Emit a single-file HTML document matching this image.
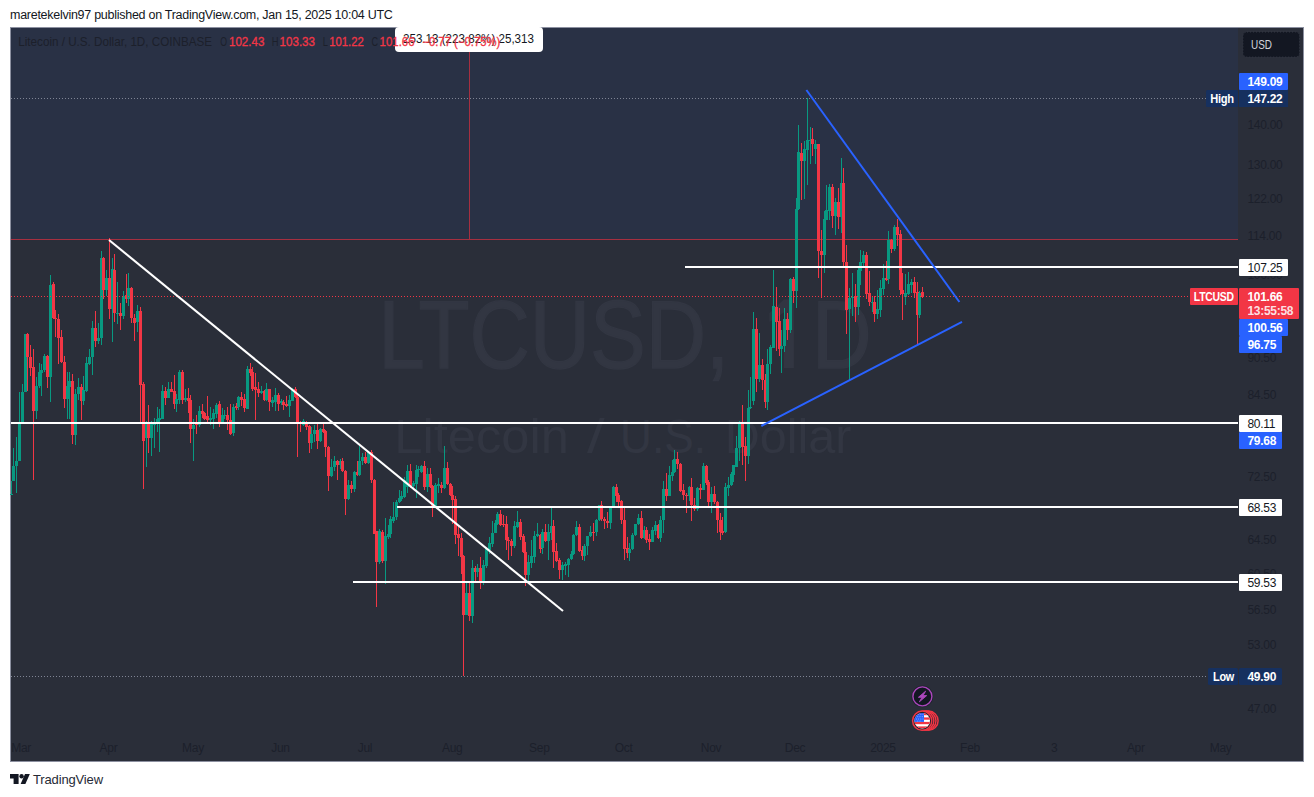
<!DOCTYPE html>
<html><head><meta charset="utf-8"><title>LTCUSD</title>
<style>
html,body{margin:0;padding:0;background:#fff;}
body{width:1314px;height:797px;position:relative;overflow:hidden;font-family:"Liberation Sans",sans-serif;}
#hdr{position:absolute;left:10px;top:7px;font-size:12.5px;line-height:16px;color:#131722;white-space:nowrap;letter-spacing:-0.27px;}
#chart{position:absolute;left:0;top:0;}
text{font-family:"Liberation Sans",sans-serif;}
.tk{font-size:12px;fill:#1c202b;letter-spacing:-0.3px;}
.lb{font-size:12px;fill:#fff;font-weight:bold;letter-spacing:-0.3px;}
.lw{font-size:12px;fill:#131722;letter-spacing:-0.3px;}
#foot{position:absolute;left:33px;top:771.6px;font-size:13px;line-height:16px;color:#262a35;letter-spacing:-0.15px;}
</style></head><body>
<div id="hdr">maretekelvin97 published on TradingView.com, Jan 15, 2025 10:04 UTC</div>
<svg id="chart" width="1314" height="797" viewBox="0 0 1314 797">
<!-- frame -->
<rect x="10.5" y="27.5" width="1293" height="734" fill="#2a2e39" stroke="#8c90a0" stroke-width="1"/>
<!-- upper tinted zone -->
<rect x="11" y="28" width="1227" height="211" fill="#293145"/>
<rect x="11" y="239" width="1227" height="1" fill="#a62f40"/>
<rect x="469" y="52" width="1" height="187" fill="#a62f40"/>
<!-- watermark -->
<g fill="#323642" lengthAdjust="spacingAndGlyphs">
<text x="378.3" y="368.2" font-size="96" textLength="351" lengthAdjust="spacingAndGlyphs" stroke="#323642" stroke-width="1.4">LTCUSD,</text>
<path d="M783.9 299.4 H793.9 V368 H783.9 V312.5 L769.5 322 V313 Z"/>
<text x="811.9" y="368.2" font-size="96" textLength="59.6" lengthAdjust="spacingAndGlyphs" stroke="#323642" stroke-width="1.4">D</text>
<text x="394.3" y="452.8" font-size="47.5" textLength="174.5" lengthAdjust="spacingAndGlyphs">Litecoin</text>
<text x="587" y="452.8" font-size="47.5" textLength="17.7" lengthAdjust="spacingAndGlyphs">/</text>
<text x="620" y="452.8" font-size="47.5" textLength="86" lengthAdjust="spacingAndGlyphs">U.S.</text>
<text x="724.8" y="452.8" font-size="47.5" textLength="126.7" lengthAdjust="spacingAndGlyphs">Dollar</text>
</g>
<!-- high/low dotted -->
<line x1="11" y1="98.5" x2="1207" y2="98.5" stroke="#7f8494" stroke-width="1" stroke-dasharray="1 2"/>
<line x1="11" y1="676.5" x2="1208.5" y2="676.5" stroke="#7f8494" stroke-width="1" stroke-dasharray="1 2"/>
<!-- candles -->
<g shape-rendering="crispEdges">
<rect x="10.5" y="480.5" width="1" height="14.1" fill="#089981"/>
<rect x="9.5" y="494.2" width="3" height="1.0" fill="#089981"/>
<rect x="13.1" y="448.4" width="1" height="32.1" fill="#089981"/>
<rect x="12.1" y="466.1" width="3" height="14.4" fill="#089981"/>
<rect x="15.9" y="437.3" width="1" height="55.3" fill="#089981"/>
<rect x="14.9" y="461.4" width="3" height="4.7" fill="#089981"/>
<rect x="18.9" y="392.1" width="1" height="69.3" fill="#089981"/>
<rect x="17.9" y="423.3" width="3" height="38.1" fill="#089981"/>
<rect x="22.0" y="383.7" width="1" height="39.6" fill="#089981"/>
<rect x="21.0" y="392.1" width="3" height="31.2" fill="#089981"/>
<rect x="24.6" y="333.5" width="1" height="58.6" fill="#089981"/>
<rect x="23.6" y="333.9" width="3" height="58.2" fill="#089981"/>
<rect x="27.2" y="332.9" width="1" height="58.2" fill="#f23645"/>
<rect x="26.2" y="333.9" width="3" height="22.7" fill="#f23645"/>
<rect x="30.0" y="344.5" width="1" height="31.1" fill="#f23645"/>
<rect x="29.0" y="356.6" width="3" height="11.0" fill="#f23645"/>
<rect x="33.0" y="349.1" width="1" height="130.4" fill="#f23645"/>
<rect x="32.0" y="366.6" width="3" height="44.6" fill="#f23645"/>
<rect x="35.8" y="376.7" width="1" height="42.5" fill="#089981"/>
<rect x="34.8" y="386.1" width="3" height="25.1" fill="#089981"/>
<rect x="38.6" y="362.6" width="1" height="25.1" fill="#089981"/>
<rect x="37.6" y="371.6" width="3" height="14.5" fill="#089981"/>
<rect x="41.2" y="363.6" width="1" height="32.5" fill="#089981"/>
<rect x="40.2" y="370.0" width="3" height="2.6" fill="#089981"/>
<rect x="44.1" y="353.5" width="1" height="18.1" fill="#089981"/>
<rect x="43.1" y="355.6" width="3" height="14.4" fill="#089981"/>
<rect x="46.9" y="354.5" width="1" height="33.6" fill="#f23645"/>
<rect x="45.9" y="355.6" width="3" height="21.1" fill="#f23645"/>
<rect x="49.9" y="274.8" width="1" height="127.0" fill="#089981"/>
<rect x="48.9" y="285.2" width="3" height="91.5" fill="#089981"/>
<rect x="52.5" y="282.2" width="1" height="37.2" fill="#f23645"/>
<rect x="51.5" y="284.2" width="3" height="34.2" fill="#f23645"/>
<rect x="55.3" y="310.3" width="1" height="26.2" fill="#f23645"/>
<rect x="54.3" y="317.8" width="3" height="1.6" fill="#f23645"/>
<rect x="58.1" y="314.4" width="1" height="49.2" fill="#f23645"/>
<rect x="57.1" y="319.0" width="3" height="18.5" fill="#f23645"/>
<rect x="61.1" y="330.4" width="1" height="32.2" fill="#f23645"/>
<rect x="60.1" y="337.1" width="3" height="24.9" fill="#f23645"/>
<rect x="63.7" y="355.6" width="1" height="52.6" fill="#f23645"/>
<rect x="62.7" y="362.0" width="3" height="37.2" fill="#f23645"/>
<rect x="66.8" y="372.0" width="1" height="47.2" fill="#089981"/>
<rect x="65.8" y="386.1" width="3" height="13.1" fill="#089981"/>
<rect x="69.4" y="372.0" width="1" height="47.2" fill="#089981"/>
<rect x="68.4" y="380.7" width="3" height="6.0" fill="#089981"/>
<rect x="72.0" y="373.6" width="1" height="70.4" fill="#f23645"/>
<rect x="71.0" y="380.7" width="3" height="54.6" fill="#f23645"/>
<rect x="75.0" y="388.7" width="1" height="56.1" fill="#089981"/>
<rect x="74.0" y="394.1" width="3" height="41.2" fill="#089981"/>
<rect x="77.8" y="378.1" width="1" height="22.1" fill="#089981"/>
<rect x="76.8" y="387.1" width="3" height="7.0" fill="#089981"/>
<rect x="80.8" y="384.1" width="1" height="35.8" fill="#f23645"/>
<rect x="79.8" y="387.1" width="3" height="14.1" fill="#f23645"/>
<rect x="83.4" y="375.6" width="1" height="29.6" fill="#089981"/>
<rect x="82.4" y="390.1" width="3" height="11.1" fill="#089981"/>
<rect x="86.3" y="356.6" width="1" height="35.1" fill="#089981"/>
<rect x="85.3" y="363.2" width="3" height="27.5" fill="#089981"/>
<rect x="89.1" y="349.1" width="1" height="15.5" fill="#089981"/>
<rect x="88.1" y="356.6" width="3" height="7.0" fill="#089981"/>
<rect x="91.9" y="321.0" width="1" height="53.6" fill="#089981"/>
<rect x="90.9" y="327.8" width="3" height="29.4" fill="#089981"/>
<rect x="94.9" y="310.9" width="1" height="35.6" fill="#f23645"/>
<rect x="93.9" y="327.8" width="3" height="12.7" fill="#f23645"/>
<rect x="97.9" y="323.0" width="1" height="20.5" fill="#089981"/>
<rect x="96.9" y="337.5" width="3" height="3.0" fill="#089981"/>
<rect x="100.5" y="251.1" width="1" height="93.4" fill="#089981"/>
<rect x="99.5" y="257.5" width="3" height="80.4" fill="#089981"/>
<rect x="103.1" y="257.1" width="1" height="41.8" fill="#f23645"/>
<rect x="102.1" y="258.1" width="3" height="31.6" fill="#f23645"/>
<rect x="106.1" y="270.2" width="1" height="26.1" fill="#089981"/>
<rect x="105.1" y="277.6" width="3" height="12.1" fill="#089981"/>
<rect x="109.0" y="238.0" width="1" height="81.4" fill="#f23645"/>
<rect x="108.0" y="277.6" width="3" height="31.3" fill="#f23645"/>
<rect x="112.0" y="258.1" width="1" height="83.4" fill="#089981"/>
<rect x="111.0" y="269.2" width="3" height="39.7" fill="#089981"/>
<rect x="114.4" y="254.1" width="1" height="68.3" fill="#f23645"/>
<rect x="113.4" y="270.2" width="3" height="43.2" fill="#f23645"/>
<rect x="117.2" y="282.2" width="1" height="42.2" fill="#089981"/>
<rect x="116.2" y="313.0" width="3" height="1.0" fill="#089981"/>
<rect x="120.0" y="303.3" width="1" height="27.1" fill="#f23645"/>
<rect x="119.0" y="313.4" width="3" height="3.0" fill="#f23645"/>
<rect x="123.0" y="291.3" width="1" height="28.1" fill="#089981"/>
<rect x="122.0" y="296.3" width="3" height="20.1" fill="#089981"/>
<rect x="125.8" y="274.2" width="1" height="29.1" fill="#f23645"/>
<rect x="124.8" y="295.3" width="3" height="3.6" fill="#f23645"/>
<rect x="128.0" y="273.2" width="1" height="33.1" fill="#089981"/>
<rect x="127.0" y="288.2" width="3" height="10.7" fill="#089981"/>
<rect x="131.1" y="287.2" width="1" height="36.2" fill="#f23645"/>
<rect x="130.1" y="288.2" width="3" height="30.2" fill="#f23645"/>
<rect x="134.1" y="314.4" width="1" height="26.1" fill="#f23645"/>
<rect x="133.1" y="317.8" width="3" height="5.2" fill="#f23645"/>
<rect x="137.1" y="304.9" width="1" height="27.5" fill="#089981"/>
<rect x="136.1" y="310.9" width="3" height="11.5" fill="#089981"/>
<rect x="140.1" y="307.3" width="1" height="116.0" fill="#f23645"/>
<rect x="139.1" y="310.9" width="3" height="73.8" fill="#f23645"/>
<rect x="143.1" y="381.7" width="1" height="106.9" fill="#f23645"/>
<rect x="142.1" y="383.7" width="3" height="57.6" fill="#f23645"/>
<rect x="145.7" y="421.3" width="1" height="45.2" fill="#089981"/>
<rect x="144.7" y="423.3" width="3" height="15.0" fill="#089981"/>
<rect x="148.1" y="405.2" width="1" height="48.2" fill="#f23645"/>
<rect x="147.1" y="423.9" width="3" height="14.4" fill="#f23645"/>
<rect x="151.0" y="421.3" width="1" height="34.7" fill="#089981"/>
<rect x="150.0" y="423.9" width="3" height="14.4" fill="#089981"/>
<rect x="153.8" y="418.2" width="1" height="30.2" fill="#089981"/>
<rect x="152.8" y="423.3" width="3" height="1.4" fill="#089981"/>
<rect x="156.6" y="407.2" width="1" height="25.1" fill="#089981"/>
<rect x="155.6" y="419.2" width="3" height="5.1" fill="#089981"/>
<rect x="159.2" y="409.2" width="1" height="43.2" fill="#089981"/>
<rect x="158.2" y="418.2" width="3" height="1.7" fill="#089981"/>
<rect x="161.8" y="384.7" width="1" height="34.5" fill="#089981"/>
<rect x="160.8" y="391.1" width="3" height="27.5" fill="#089981"/>
<rect x="164.6" y="387.1" width="1" height="18.1" fill="#f23645"/>
<rect x="163.6" y="391.1" width="3" height="7.1" fill="#f23645"/>
<rect x="167.6" y="382.3" width="1" height="15.9" fill="#089981"/>
<rect x="166.6" y="389.1" width="3" height="8.6" fill="#089981"/>
<rect x="170.6" y="381.7" width="1" height="10.4" fill="#f23645"/>
<rect x="169.6" y="389.1" width="3" height="2.6" fill="#f23645"/>
<rect x="173.9" y="375.2" width="1" height="34.0" fill="#f23645"/>
<rect x="172.9" y="390.7" width="3" height="13.1" fill="#f23645"/>
<rect x="176.3" y="393.7" width="1" height="18.1" fill="#089981"/>
<rect x="175.3" y="399.2" width="3" height="4.6" fill="#089981"/>
<rect x="178.9" y="370.0" width="1" height="34.2" fill="#089981"/>
<rect x="177.9" y="371.6" width="3" height="28.2" fill="#089981"/>
<rect x="181.9" y="370.0" width="1" height="33.8" fill="#f23645"/>
<rect x="180.9" y="372.0" width="3" height="27.8" fill="#f23645"/>
<rect x="184.9" y="388.7" width="1" height="13.5" fill="#089981"/>
<rect x="183.9" y="397.7" width="3" height="2.5" fill="#089981"/>
<rect x="187.7" y="388.1" width="1" height="25.1" fill="#f23645"/>
<rect x="186.7" y="397.7" width="3" height="3.5" fill="#f23645"/>
<rect x="190.3" y="395.1" width="1" height="47.7" fill="#f23645"/>
<rect x="189.3" y="400.2" width="3" height="28.5" fill="#f23645"/>
<rect x="192.9" y="419.2" width="1" height="42.2" fill="#089981"/>
<rect x="191.9" y="424.7" width="3" height="4.0" fill="#089981"/>
<rect x="196.0" y="415.2" width="1" height="18.7" fill="#f23645"/>
<rect x="195.0" y="422.3" width="3" height="2.4" fill="#f23645"/>
<rect x="198.8" y="405.8" width="1" height="21.5" fill="#089981"/>
<rect x="197.8" y="411.2" width="3" height="13.5" fill="#089981"/>
<rect x="201.8" y="404.2" width="1" height="14.0" fill="#f23645"/>
<rect x="200.8" y="411.2" width="3" height="2.6" fill="#f23645"/>
<rect x="204.4" y="412.2" width="1" height="8.1" fill="#f23645"/>
<rect x="203.4" y="413.2" width="3" height="6.0" fill="#f23645"/>
<rect x="207.0" y="396.1" width="1" height="27.8" fill="#f23645"/>
<rect x="206.0" y="415.8" width="3" height="4.5" fill="#f23645"/>
<rect x="210.0" y="407.2" width="1" height="17.5" fill="#089981"/>
<rect x="209.0" y="418.2" width="3" height="2.1" fill="#089981"/>
<rect x="213.0" y="409.2" width="1" height="19.5" fill="#089981"/>
<rect x="212.0" y="413.2" width="3" height="5.4" fill="#089981"/>
<rect x="215.8" y="403.2" width="1" height="15.0" fill="#089981"/>
<rect x="214.8" y="404.6" width="3" height="9.2" fill="#089981"/>
<rect x="218.9" y="401.2" width="1" height="25.5" fill="#f23645"/>
<rect x="217.9" y="404.2" width="3" height="18.1" fill="#f23645"/>
<rect x="221.5" y="408.2" width="1" height="15.1" fill="#089981"/>
<rect x="220.5" y="415.2" width="3" height="7.1" fill="#089981"/>
<rect x="224.1" y="410.2" width="1" height="9.0" fill="#089981"/>
<rect x="223.1" y="415.2" width="3" height="1.0" fill="#089981"/>
<rect x="226.9" y="407.2" width="1" height="23.1" fill="#f23645"/>
<rect x="225.9" y="415.2" width="3" height="5.1" fill="#f23645"/>
<rect x="229.9" y="404.2" width="1" height="30.5" fill="#f23645"/>
<rect x="228.9" y="420.3" width="3" height="13.6" fill="#f23645"/>
<rect x="232.9" y="404.2" width="1" height="31.7" fill="#089981"/>
<rect x="231.9" y="407.2" width="3" height="26.1" fill="#089981"/>
<rect x="235.5" y="403.2" width="1" height="7.0" fill="#f23645"/>
<rect x="234.5" y="406.2" width="3" height="2.0" fill="#f23645"/>
<rect x="238.2" y="395.7" width="1" height="14.5" fill="#089981"/>
<rect x="237.2" y="397.1" width="3" height="10.1" fill="#089981"/>
<rect x="241.2" y="392.1" width="1" height="14.1" fill="#f23645"/>
<rect x="240.2" y="397.1" width="3" height="3.1" fill="#f23645"/>
<rect x="244.0" y="394.1" width="1" height="17.7" fill="#f23645"/>
<rect x="243.0" y="399.2" width="3" height="9.0" fill="#f23645"/>
<rect x="246.8" y="365.6" width="1" height="43.4" fill="#089981"/>
<rect x="245.8" y="368.6" width="3" height="40.0" fill="#089981"/>
<rect x="249.6" y="363.2" width="1" height="12.4" fill="#f23645"/>
<rect x="248.6" y="369.2" width="3" height="3.4" fill="#f23645"/>
<rect x="252.2" y="366.6" width="1" height="24.5" fill="#f23645"/>
<rect x="251.2" y="371.6" width="3" height="17.5" fill="#f23645"/>
<rect x="255.0" y="372.6" width="1" height="47.7" fill="#f23645"/>
<rect x="254.0" y="387.1" width="3" height="3.0" fill="#f23645"/>
<rect x="258.0" y="381.7" width="1" height="15.4" fill="#f23645"/>
<rect x="257.0" y="388.7" width="3" height="4.0" fill="#f23645"/>
<rect x="260.7" y="385.7" width="1" height="8.4" fill="#089981"/>
<rect x="259.7" y="391.1" width="3" height="2.0" fill="#089981"/>
<rect x="263.7" y="389.7" width="1" height="11.5" fill="#f23645"/>
<rect x="262.7" y="391.1" width="3" height="9.1" fill="#f23645"/>
<rect x="266.3" y="382.7" width="1" height="17.9" fill="#089981"/>
<rect x="265.3" y="389.1" width="3" height="11.1" fill="#089981"/>
<rect x="269.1" y="388.7" width="1" height="21.9" fill="#f23645"/>
<rect x="268.1" y="389.1" width="3" height="13.1" fill="#f23645"/>
<rect x="271.9" y="397.1" width="1" height="10.1" fill="#089981"/>
<rect x="270.9" y="400.2" width="3" height="2.4" fill="#089981"/>
<rect x="274.7" y="388.0" width="1" height="23.1" fill="#089981"/>
<rect x="273.7" y="394.5" width="3" height="7.2" fill="#089981"/>
<rect x="277.7" y="393.1" width="1" height="17.4" fill="#f23645"/>
<rect x="276.7" y="394.5" width="3" height="9.6" fill="#f23645"/>
<rect x="280.6" y="399.1" width="1" height="6.0" fill="#089981"/>
<rect x="279.6" y="401.1" width="3" height="2.0" fill="#089981"/>
<rect x="283.2" y="400.1" width="1" height="9.6" fill="#f23645"/>
<rect x="282.2" y="401.7" width="3" height="3.4" fill="#f23645"/>
<rect x="286.0" y="396.1" width="1" height="11.0" fill="#f23645"/>
<rect x="285.0" y="403.7" width="3" height="2.0" fill="#f23645"/>
<rect x="288.8" y="395.1" width="1" height="21.5" fill="#089981"/>
<rect x="287.8" y="400.1" width="3" height="5.6" fill="#089981"/>
<rect x="291.6" y="388.4" width="1" height="12.7" fill="#089981"/>
<rect x="290.6" y="389.0" width="3" height="11.5" fill="#089981"/>
<rect x="294.6" y="387.0" width="1" height="11.1" fill="#f23645"/>
<rect x="293.6" y="389.0" width="3" height="8.1" fill="#f23645"/>
<rect x="297.2" y="393.1" width="1" height="64.3" fill="#f23645"/>
<rect x="296.2" y="397.1" width="3" height="26.1" fill="#f23645"/>
<rect x="300.0" y="421.2" width="1" height="10.6" fill="#f23645"/>
<rect x="299.0" y="422.2" width="3" height="1.6" fill="#f23645"/>
<rect x="302.9" y="419.2" width="1" height="7.0" fill="#089981"/>
<rect x="301.9" y="421.2" width="3" height="4.0" fill="#089981"/>
<rect x="305.7" y="421.2" width="1" height="9.0" fill="#f23645"/>
<rect x="304.7" y="421.6" width="3" height="5.0" fill="#f23645"/>
<rect x="308.7" y="424.6" width="1" height="28.7" fill="#f23645"/>
<rect x="307.7" y="425.8" width="3" height="16.9" fill="#f23645"/>
<rect x="311.3" y="427.2" width="1" height="21.5" fill="#089981"/>
<rect x="310.3" y="433.8" width="3" height="8.9" fill="#089981"/>
<rect x="314.1" y="424.6" width="1" height="17.7" fill="#089981"/>
<rect x="313.1" y="430.2" width="3" height="4.0" fill="#089981"/>
<rect x="316.9" y="422.2" width="1" height="26.5" fill="#f23645"/>
<rect x="315.9" y="430.2" width="3" height="10.5" fill="#f23645"/>
<rect x="319.9" y="427.8" width="1" height="14.1" fill="#089981"/>
<rect x="318.9" y="429.2" width="3" height="11.5" fill="#089981"/>
<rect x="322.7" y="423.2" width="1" height="9.4" fill="#f23645"/>
<rect x="321.7" y="429.2" width="3" height="2.6" fill="#f23645"/>
<rect x="325.4" y="430.2" width="1" height="27.2" fill="#f23645"/>
<rect x="324.4" y="431.2" width="3" height="16.1" fill="#f23645"/>
<rect x="328.0" y="445.9" width="1" height="44.6" fill="#f23645"/>
<rect x="327.0" y="447.3" width="3" height="29.1" fill="#f23645"/>
<rect x="331.0" y="459.4" width="1" height="18.0" fill="#089981"/>
<rect x="330.0" y="466.8" width="3" height="9.6" fill="#089981"/>
<rect x="333.8" y="455.9" width="1" height="15.5" fill="#089981"/>
<rect x="332.8" y="461.4" width="3" height="5.4" fill="#089981"/>
<rect x="336.8" y="460.4" width="1" height="19.1" fill="#f23645"/>
<rect x="335.8" y="461.4" width="3" height="4.0" fill="#f23645"/>
<rect x="339.8" y="458.8" width="1" height="10.6" fill="#089981"/>
<rect x="338.8" y="461.4" width="3" height="4.0" fill="#089981"/>
<rect x="342.4" y="458.4" width="1" height="14.0" fill="#f23645"/>
<rect x="341.4" y="461.4" width="3" height="9.4" fill="#f23645"/>
<rect x="345.0" y="470.4" width="1" height="44.2" fill="#f23645"/>
<rect x="344.0" y="470.8" width="3" height="27.7" fill="#f23645"/>
<rect x="348.1" y="480.1" width="1" height="20.1" fill="#089981"/>
<rect x="347.1" y="484.5" width="3" height="14.4" fill="#089981"/>
<rect x="350.9" y="480.5" width="1" height="12.0" fill="#f23645"/>
<rect x="349.9" y="484.5" width="3" height="4.0" fill="#f23645"/>
<rect x="353.9" y="470.8" width="1" height="20.7" fill="#089981"/>
<rect x="352.9" y="472.0" width="3" height="16.5" fill="#089981"/>
<rect x="356.5" y="461.4" width="1" height="15.0" fill="#f23645"/>
<rect x="355.5" y="472.0" width="3" height="3.4" fill="#f23645"/>
<rect x="359.1" y="446.3" width="1" height="29.7" fill="#089981"/>
<rect x="358.1" y="460.8" width="3" height="14.6" fill="#089981"/>
<rect x="361.9" y="452.7" width="1" height="12.7" fill="#089981"/>
<rect x="360.9" y="457.4" width="3" height="3.4" fill="#089981"/>
<rect x="364.9" y="452.3" width="1" height="12.1" fill="#f23645"/>
<rect x="363.9" y="457.4" width="3" height="6.0" fill="#f23645"/>
<rect x="368.0" y="450.7" width="1" height="13.3" fill="#089981"/>
<rect x="367.0" y="452.3" width="3" height="11.1" fill="#089981"/>
<rect x="371.0" y="449.9" width="1" height="32.6" fill="#f23645"/>
<rect x="370.0" y="452.3" width="3" height="27.8" fill="#f23645"/>
<rect x="373.6" y="478.5" width="1" height="55.6" fill="#f23645"/>
<rect x="372.6" y="479.5" width="3" height="54.2" fill="#f23645"/>
<rect x="376.0" y="530.7" width="1" height="76.7" fill="#f23645"/>
<rect x="375.0" y="531.1" width="3" height="30.5" fill="#f23645"/>
<rect x="379.0" y="529.1" width="1" height="35.1" fill="#089981"/>
<rect x="378.0" y="531.1" width="3" height="31.1" fill="#089981"/>
<rect x="382.0" y="529.7" width="1" height="33.5" fill="#f23645"/>
<rect x="381.0" y="532.1" width="3" height="29.1" fill="#f23645"/>
<rect x="385.0" y="517.6" width="1" height="66.7" fill="#089981"/>
<rect x="384.0" y="536.1" width="3" height="25.1" fill="#089981"/>
<rect x="387.6" y="524.7" width="1" height="14.4" fill="#089981"/>
<rect x="386.6" y="533.7" width="3" height="3.4" fill="#089981"/>
<rect x="390.3" y="516.2" width="1" height="21.9" fill="#089981"/>
<rect x="389.3" y="518.6" width="3" height="15.1" fill="#089981"/>
<rect x="392.9" y="501.6" width="1" height="21.5" fill="#089981"/>
<rect x="391.9" y="516.6" width="3" height="4.0" fill="#089981"/>
<rect x="395.7" y="500.2" width="1" height="19.4" fill="#089981"/>
<rect x="394.7" y="501.6" width="3" height="15.0" fill="#089981"/>
<rect x="398.5" y="490.1" width="1" height="12.5" fill="#089981"/>
<rect x="397.5" y="497.5" width="3" height="4.1" fill="#089981"/>
<rect x="401.1" y="490.5" width="1" height="10.1" fill="#089981"/>
<rect x="400.1" y="495.5" width="3" height="3.0" fill="#089981"/>
<rect x="403.7" y="476.8" width="1" height="20.7" fill="#089981"/>
<rect x="402.7" y="479.5" width="3" height="17.0" fill="#089981"/>
<rect x="406.7" y="464.8" width="1" height="27.7" fill="#089981"/>
<rect x="405.7" y="470.8" width="3" height="15.7" fill="#089981"/>
<rect x="409.7" y="464.4" width="1" height="23.1" fill="#f23645"/>
<rect x="408.7" y="470.8" width="3" height="14.7" fill="#f23645"/>
<rect x="412.6" y="480.5" width="1" height="9.0" fill="#089981"/>
<rect x="411.6" y="482.5" width="3" height="3.0" fill="#089981"/>
<rect x="415.6" y="465.4" width="1" height="32.1" fill="#089981"/>
<rect x="414.6" y="470.0" width="3" height="13.5" fill="#089981"/>
<rect x="418.2" y="466.4" width="1" height="11.0" fill="#089981"/>
<rect x="417.2" y="469.4" width="3" height="1.0" fill="#089981"/>
<rect x="421.0" y="464.8" width="1" height="8.6" fill="#089981"/>
<rect x="420.0" y="466.0" width="3" height="6.4" fill="#089981"/>
<rect x="423.8" y="460.8" width="1" height="28.7" fill="#f23645"/>
<rect x="422.8" y="466.0" width="3" height="20.5" fill="#f23645"/>
<rect x="426.8" y="468.0" width="1" height="23.5" fill="#089981"/>
<rect x="425.8" y="474.0" width="3" height="12.5" fill="#089981"/>
<rect x="429.8" y="468.4" width="1" height="19.1" fill="#f23645"/>
<rect x="428.8" y="474.0" width="3" height="12.5" fill="#f23645"/>
<rect x="432.2" y="484.5" width="1" height="32.1" fill="#f23645"/>
<rect x="431.2" y="485.5" width="3" height="20.1" fill="#f23645"/>
<rect x="435.1" y="482.9" width="1" height="23.7" fill="#089981"/>
<rect x="434.1" y="484.9" width="3" height="20.7" fill="#089981"/>
<rect x="437.9" y="478.1" width="1" height="14.4" fill="#089981"/>
<rect x="436.9" y="484.1" width="3" height="1.4" fill="#089981"/>
<rect x="440.7" y="482.1" width="1" height="10.4" fill="#f23645"/>
<rect x="439.7" y="484.5" width="3" height="3.6" fill="#f23645"/>
<rect x="443.9" y="445.9" width="1" height="42.6" fill="#089981"/>
<rect x="442.9" y="467.8" width="3" height="19.7" fill="#089981"/>
<rect x="446.9" y="462.0" width="1" height="22.5" fill="#f23645"/>
<rect x="445.9" y="467.8" width="3" height="15.7" fill="#f23645"/>
<rect x="449.7" y="482.5" width="1" height="13.6" fill="#f23645"/>
<rect x="448.7" y="483.5" width="3" height="11.4" fill="#f23645"/>
<rect x="452.3" y="485.5" width="1" height="38.2" fill="#f23645"/>
<rect x="451.3" y="494.5" width="3" height="5.0" fill="#f23645"/>
<rect x="455.2" y="496.1" width="1" height="48.1" fill="#f23645"/>
<rect x="454.2" y="498.9" width="3" height="35.8" fill="#f23645"/>
<rect x="458.0" y="524.7" width="1" height="31.5" fill="#f23645"/>
<rect x="457.0" y="534.3" width="3" height="3.8" fill="#f23645"/>
<rect x="460.8" y="532.7" width="1" height="41.6" fill="#f23645"/>
<rect x="459.8" y="538.1" width="3" height="19.1" fill="#f23645"/>
<rect x="463.4" y="555.2" width="1" height="120.6" fill="#f23645"/>
<rect x="462.4" y="556.2" width="3" height="58.3" fill="#f23645"/>
<rect x="466.0" y="583.3" width="1" height="31.2" fill="#089981"/>
<rect x="465.0" y="593.4" width="3" height="21.1" fill="#089981"/>
<rect x="468.8" y="582.3" width="1" height="38.8" fill="#f23645"/>
<rect x="467.8" y="593.0" width="3" height="22.5" fill="#f23645"/>
<rect x="471.8" y="560.2" width="1" height="62.9" fill="#089981"/>
<rect x="470.8" y="567.7" width="3" height="48.2" fill="#089981"/>
<rect x="474.8" y="566.3" width="1" height="17.0" fill="#f23645"/>
<rect x="473.8" y="568.3" width="3" height="3.4" fill="#f23645"/>
<rect x="477.3" y="564.2" width="1" height="13.1" fill="#089981"/>
<rect x="476.3" y="567.7" width="3" height="4.0" fill="#089981"/>
<rect x="479.9" y="557.2" width="1" height="31.8" fill="#f23645"/>
<rect x="478.9" y="567.7" width="3" height="13.6" fill="#f23645"/>
<rect x="482.9" y="560.2" width="1" height="24.7" fill="#089981"/>
<rect x="481.9" y="565.3" width="3" height="16.0" fill="#089981"/>
<rect x="485.9" y="547.2" width="1" height="20.5" fill="#089981"/>
<rect x="484.9" y="548.8" width="3" height="17.5" fill="#089981"/>
<rect x="488.5" y="537.1" width="1" height="17.1" fill="#089981"/>
<rect x="487.5" y="543.2" width="3" height="7.0" fill="#089981"/>
<rect x="491.5" y="520.6" width="1" height="26.6" fill="#089981"/>
<rect x="490.5" y="532.7" width="3" height="11.5" fill="#089981"/>
<rect x="494.5" y="520.2" width="1" height="12.9" fill="#089981"/>
<rect x="493.5" y="523.1" width="3" height="9.6" fill="#089981"/>
<rect x="497.1" y="511.6" width="1" height="13.1" fill="#089981"/>
<rect x="496.1" y="513.6" width="3" height="10.1" fill="#089981"/>
<rect x="500.0" y="510.2" width="1" height="15.5" fill="#f23645"/>
<rect x="499.0" y="513.6" width="3" height="11.1" fill="#f23645"/>
<rect x="503.0" y="515.0" width="1" height="11.7" fill="#f23645"/>
<rect x="502.0" y="523.7" width="3" height="1.4" fill="#f23645"/>
<rect x="506.0" y="516.2" width="1" height="34.0" fill="#f23645"/>
<rect x="505.0" y="524.3" width="3" height="15.8" fill="#f23645"/>
<rect x="508.2" y="537.1" width="1" height="23.1" fill="#f23645"/>
<rect x="507.2" y="540.1" width="3" height="1.0" fill="#f23645"/>
<rect x="511.0" y="539.1" width="1" height="17.1" fill="#f23645"/>
<rect x="510.0" y="541.1" width="3" height="5.1" fill="#f23645"/>
<rect x="514.0" y="520.6" width="1" height="27.0" fill="#089981"/>
<rect x="513.0" y="526.3" width="3" height="19.9" fill="#089981"/>
<rect x="517.0" y="511.0" width="1" height="16.7" fill="#089981"/>
<rect x="516.0" y="522.3" width="3" height="4.4" fill="#089981"/>
<rect x="519.9" y="518.6" width="1" height="21.5" fill="#f23645"/>
<rect x="518.9" y="522.3" width="3" height="14.4" fill="#f23645"/>
<rect x="522.7" y="534.1" width="1" height="19.1" fill="#f23645"/>
<rect x="521.7" y="536.1" width="3" height="16.1" fill="#f23645"/>
<rect x="525.3" y="542.1" width="1" height="44.2" fill="#f23645"/>
<rect x="524.3" y="552.2" width="3" height="23.1" fill="#f23645"/>
<rect x="528.1" y="555.2" width="1" height="28.1" fill="#089981"/>
<rect x="527.1" y="562.2" width="3" height="12.7" fill="#089981"/>
<rect x="530.7" y="540.1" width="1" height="28.2" fill="#089981"/>
<rect x="529.7" y="556.2" width="3" height="7.0" fill="#089981"/>
<rect x="533.5" y="531.4" width="1" height="31.6" fill="#089981"/>
<rect x="532.5" y="536.0" width="3" height="20.5" fill="#089981"/>
<rect x="536.5" y="522.8" width="1" height="14.0" fill="#089981"/>
<rect x="535.5" y="534.4" width="3" height="2.0" fill="#089981"/>
<rect x="539.5" y="534.0" width="1" height="18.5" fill="#f23645"/>
<rect x="538.5" y="534.8" width="3" height="13.7" fill="#f23645"/>
<rect x="542.2" y="529.4" width="1" height="24.1" fill="#089981"/>
<rect x="541.2" y="532.0" width="3" height="16.1" fill="#089981"/>
<rect x="545.0" y="524.4" width="1" height="17.1" fill="#f23645"/>
<rect x="544.0" y="532.0" width="3" height="8.5" fill="#f23645"/>
<rect x="548.0" y="524.4" width="1" height="35.8" fill="#089981"/>
<rect x="547.0" y="532.4" width="3" height="8.1" fill="#089981"/>
<rect x="550.8" y="507.3" width="1" height="32.2" fill="#089981"/>
<rect x="549.8" y="526.0" width="3" height="6.8" fill="#089981"/>
<rect x="553.2" y="520.0" width="1" height="47.6" fill="#f23645"/>
<rect x="552.2" y="526.0" width="3" height="25.5" fill="#f23645"/>
<rect x="556.0" y="542.5" width="1" height="19.1" fill="#f23645"/>
<rect x="555.0" y="550.9" width="3" height="9.7" fill="#f23645"/>
<rect x="559.0" y="557.5" width="1" height="21.1" fill="#f23645"/>
<rect x="558.0" y="560.2" width="3" height="9.4" fill="#f23645"/>
<rect x="562.0" y="561.6" width="1" height="18.6" fill="#089981"/>
<rect x="561.0" y="565.0" width="3" height="4.6" fill="#089981"/>
<rect x="564.9" y="561.6" width="1" height="13.0" fill="#089981"/>
<rect x="563.9" y="564.2" width="3" height="1.4" fill="#089981"/>
<rect x="567.7" y="557.5" width="1" height="19.1" fill="#089981"/>
<rect x="566.7" y="558.5" width="3" height="6.1" fill="#089981"/>
<rect x="570.5" y="550.5" width="1" height="9.0" fill="#089981"/>
<rect x="569.5" y="553.5" width="3" height="5.0" fill="#089981"/>
<rect x="573.1" y="534.4" width="1" height="20.1" fill="#089981"/>
<rect x="572.1" y="535.4" width="3" height="18.7" fill="#089981"/>
<rect x="576.1" y="521.4" width="1" height="14.6" fill="#089981"/>
<rect x="575.1" y="526.8" width="3" height="8.6" fill="#089981"/>
<rect x="578.9" y="524.4" width="1" height="27.1" fill="#f23645"/>
<rect x="577.9" y="526.8" width="3" height="23.7" fill="#f23645"/>
<rect x="581.7" y="545.5" width="1" height="14.7" fill="#f23645"/>
<rect x="580.7" y="550.1" width="3" height="5.4" fill="#f23645"/>
<rect x="584.4" y="543.5" width="1" height="17.1" fill="#089981"/>
<rect x="583.4" y="545.5" width="3" height="10.0" fill="#089981"/>
<rect x="587.2" y="536.0" width="1" height="18.5" fill="#089981"/>
<rect x="586.2" y="536.4" width="3" height="9.1" fill="#089981"/>
<rect x="590.0" y="526.4" width="1" height="10.4" fill="#089981"/>
<rect x="589.0" y="532.4" width="3" height="4.0" fill="#089981"/>
<rect x="593.0" y="523.4" width="1" height="17.1" fill="#f23645"/>
<rect x="592.0" y="532.0" width="3" height="1.0" fill="#f23645"/>
<rect x="595.8" y="518.8" width="1" height="17.2" fill="#089981"/>
<rect x="594.8" y="520.4" width="3" height="12.0" fill="#089981"/>
<rect x="598.8" y="504.7" width="1" height="16.7" fill="#089981"/>
<rect x="597.8" y="505.3" width="3" height="15.1" fill="#089981"/>
<rect x="601.2" y="500.7" width="1" height="20.1" fill="#f23645"/>
<rect x="600.2" y="505.3" width="3" height="14.1" fill="#f23645"/>
<rect x="604.0" y="517.4" width="1" height="12.0" fill="#f23645"/>
<rect x="603.0" y="519.4" width="3" height="2.0" fill="#f23645"/>
<rect x="606.9" y="512.3" width="1" height="15.7" fill="#f23645"/>
<rect x="605.9" y="520.8" width="3" height="2.0" fill="#f23645"/>
<rect x="609.9" y="506.3" width="1" height="23.1" fill="#089981"/>
<rect x="608.9" y="506.7" width="3" height="16.7" fill="#089981"/>
<rect x="612.9" y="485.8" width="1" height="22.1" fill="#089981"/>
<rect x="611.9" y="487.2" width="3" height="20.1" fill="#089981"/>
<rect x="615.5" y="484.2" width="1" height="18.1" fill="#f23645"/>
<rect x="614.5" y="487.2" width="3" height="9.1" fill="#f23645"/>
<rect x="618.1" y="493.2" width="1" height="13.1" fill="#f23645"/>
<rect x="617.1" y="495.3" width="3" height="6.6" fill="#f23645"/>
<rect x="621.1" y="499.9" width="1" height="24.1" fill="#f23645"/>
<rect x="620.1" y="501.3" width="3" height="19.1" fill="#f23645"/>
<rect x="623.9" y="508.3" width="1" height="51.2" fill="#f23645"/>
<rect x="622.9" y="520.0" width="3" height="28.5" fill="#f23645"/>
<rect x="626.7" y="537.4" width="1" height="20.1" fill="#f23645"/>
<rect x="625.7" y="548.1" width="3" height="4.4" fill="#f23645"/>
<rect x="629.4" y="542.9" width="1" height="17.7" fill="#089981"/>
<rect x="628.4" y="548.5" width="3" height="4.4" fill="#089981"/>
<rect x="632.2" y="533.4" width="1" height="16.1" fill="#089981"/>
<rect x="631.2" y="534.8" width="3" height="13.7" fill="#089981"/>
<rect x="635.2" y="524.0" width="1" height="12.4" fill="#089981"/>
<rect x="634.2" y="524.4" width="3" height="11.0" fill="#089981"/>
<rect x="638.2" y="513.9" width="1" height="11.5" fill="#089981"/>
<rect x="637.2" y="518.4" width="3" height="6.0" fill="#089981"/>
<rect x="640.8" y="510.7" width="1" height="27.8" fill="#f23645"/>
<rect x="639.8" y="518.4" width="3" height="19.7" fill="#f23645"/>
<rect x="643.8" y="526.0" width="1" height="12.9" fill="#089981"/>
<rect x="642.8" y="530.0" width="3" height="8.1" fill="#089981"/>
<rect x="646.4" y="527.4" width="1" height="15.5" fill="#f23645"/>
<rect x="645.4" y="530.0" width="3" height="9.5" fill="#f23645"/>
<rect x="649.0" y="534.4" width="1" height="15.1" fill="#f23645"/>
<rect x="648.0" y="538.9" width="3" height="2.6" fill="#f23645"/>
<rect x="652.1" y="527.4" width="1" height="14.7" fill="#089981"/>
<rect x="651.1" y="530.4" width="3" height="11.1" fill="#089981"/>
<rect x="654.9" y="520.8" width="1" height="14.0" fill="#089981"/>
<rect x="653.9" y="525.4" width="3" height="5.4" fill="#089981"/>
<rect x="657.7" y="524.4" width="1" height="14.5" fill="#f23645"/>
<rect x="656.7" y="525.4" width="3" height="12.7" fill="#f23645"/>
<rect x="660.3" y="516.4" width="1" height="25.1" fill="#089981"/>
<rect x="659.3" y="520.4" width="3" height="17.7" fill="#089981"/>
<rect x="662.9" y="481.2" width="1" height="51.6" fill="#089981"/>
<rect x="661.9" y="489.2" width="3" height="31.2" fill="#089981"/>
<rect x="665.9" y="473.2" width="1" height="27.5" fill="#f23645"/>
<rect x="664.9" y="489.2" width="3" height="6.7" fill="#f23645"/>
<rect x="668.9" y="466.1" width="1" height="30.2" fill="#089981"/>
<rect x="667.9" y="475.2" width="3" height="20.7" fill="#089981"/>
<rect x="671.8" y="459.7" width="1" height="21.5" fill="#089981"/>
<rect x="670.8" y="471.7" width="3" height="4.1" fill="#089981"/>
<rect x="674.2" y="450.0" width="1" height="22.5" fill="#089981"/>
<rect x="673.2" y="459.1" width="3" height="13.0" fill="#089981"/>
<rect x="677.2" y="452.1" width="1" height="16.4" fill="#f23645"/>
<rect x="676.2" y="459.1" width="3" height="5.0" fill="#f23645"/>
<rect x="680.0" y="462.5" width="1" height="29.7" fill="#f23645"/>
<rect x="679.0" y="463.7" width="3" height="26.9" fill="#f23645"/>
<rect x="683.0" y="484.2" width="1" height="15.7" fill="#f23645"/>
<rect x="682.0" y="490.2" width="3" height="5.1" fill="#f23645"/>
<rect x="685.8" y="493.2" width="1" height="19.5" fill="#f23645"/>
<rect x="684.8" y="494.7" width="3" height="1.6" fill="#f23645"/>
<rect x="688.6" y="485.8" width="1" height="15.5" fill="#089981"/>
<rect x="687.6" y="487.2" width="3" height="8.7" fill="#089981"/>
<rect x="691.0" y="478.2" width="1" height="42.6" fill="#f23645"/>
<rect x="690.0" y="487.2" width="3" height="18.1" fill="#f23645"/>
<rect x="693.9" y="498.3" width="1" height="12.4" fill="#f23645"/>
<rect x="692.9" y="504.7" width="3" height="4.6" fill="#f23645"/>
<rect x="696.9" y="487.2" width="1" height="24.1" fill="#089981"/>
<rect x="695.9" y="488.2" width="3" height="21.1" fill="#089981"/>
<rect x="699.9" y="484.2" width="1" height="14.5" fill="#f23645"/>
<rect x="698.9" y="487.8" width="3" height="2.0" fill="#f23645"/>
<rect x="702.9" y="463.1" width="1" height="27.1" fill="#089981"/>
<rect x="701.9" y="465.7" width="3" height="24.1" fill="#089981"/>
<rect x="705.5" y="464.5" width="1" height="20.1" fill="#f23645"/>
<rect x="704.5" y="465.7" width="3" height="17.5" fill="#f23645"/>
<rect x="707.9" y="480.2" width="1" height="27.1" fill="#f23645"/>
<rect x="706.9" y="482.2" width="3" height="19.7" fill="#f23645"/>
<rect x="710.9" y="487.2" width="1" height="26.1" fill="#089981"/>
<rect x="709.9" y="493.8" width="3" height="8.1" fill="#089981"/>
<rect x="713.9" y="486.2" width="1" height="17.7" fill="#f23645"/>
<rect x="712.9" y="493.8" width="3" height="8.5" fill="#f23645"/>
<rect x="716.8" y="501.3" width="1" height="31.5" fill="#f23645"/>
<rect x="715.8" y="501.9" width="3" height="18.5" fill="#f23645"/>
<rect x="719.8" y="513.3" width="1" height="26.2" fill="#f23645"/>
<rect x="718.8" y="520.0" width="3" height="12.0" fill="#f23645"/>
<rect x="722.4" y="516.8" width="1" height="18.6" fill="#f23645"/>
<rect x="721.4" y="531.4" width="3" height="1.4" fill="#f23645"/>
<rect x="724.8" y="483.2" width="1" height="49.6" fill="#089981"/>
<rect x="723.8" y="487.2" width="3" height="45.2" fill="#089981"/>
<rect x="727.8" y="477.2" width="1" height="18.7" fill="#089981"/>
<rect x="726.8" y="484.6" width="3" height="3.2" fill="#089981"/>
<rect x="730.8" y="472.1" width="1" height="13.7" fill="#089981"/>
<rect x="729.8" y="474.2" width="3" height="11.0" fill="#089981"/>
<rect x="733.4" y="464.5" width="1" height="17.7" fill="#089981"/>
<rect x="732.4" y="465.1" width="3" height="9.5" fill="#089981"/>
<rect x="736.1" y="435.8" width="1" height="31.2" fill="#089981"/>
<rect x="735.1" y="447.7" width="3" height="18.8" fill="#089981"/>
<rect x="738.9" y="420.8" width="1" height="40.1" fill="#089981"/>
<rect x="737.9" y="422.6" width="3" height="25.1" fill="#089981"/>
<rect x="741.8" y="405.1" width="1" height="59.5" fill="#f23645"/>
<rect x="740.8" y="422.6" width="3" height="23.9" fill="#f23645"/>
<rect x="744.9" y="437.0" width="1" height="44.0" fill="#f23645"/>
<rect x="743.9" y="446.2" width="3" height="9.7" fill="#f23645"/>
<rect x="748.1" y="389.5" width="1" height="74.3" fill="#089981"/>
<rect x="747.1" y="408.2" width="3" height="47.7" fill="#089981"/>
<rect x="750.3" y="376.6" width="1" height="32.4" fill="#089981"/>
<rect x="749.3" y="407.0" width="3" height="1.2" fill="#089981"/>
<rect x="753.1" y="312.0" width="1" height="93.1" fill="#089981"/>
<rect x="752.1" y="329.1" width="3" height="71.9" fill="#089981"/>
<rect x="756.1" y="317.8" width="1" height="74.5" fill="#f23645"/>
<rect x="755.1" y="329.1" width="3" height="49.7" fill="#f23645"/>
<rect x="759.1" y="332.9" width="1" height="48.9" fill="#089981"/>
<rect x="758.1" y="365.0" width="3" height="13.8" fill="#089981"/>
<rect x="762.1" y="358.9" width="1" height="31.2" fill="#f23645"/>
<rect x="761.1" y="365.0" width="3" height="15.3" fill="#f23645"/>
<rect x="765.1" y="374.0" width="1" height="34.2" fill="#f23645"/>
<rect x="764.1" y="380.0" width="3" height="22.1" fill="#f23645"/>
<rect x="767.3" y="349.0" width="1" height="61.0" fill="#089981"/>
<rect x="766.3" y="363.8" width="3" height="38.3" fill="#089981"/>
<rect x="770.1" y="344.9" width="1" height="29.1" fill="#089981"/>
<rect x="769.1" y="347.2" width="3" height="16.6" fill="#089981"/>
<rect x="772.9" y="270.2" width="1" height="77.8" fill="#089981"/>
<rect x="771.9" y="305.8" width="3" height="41.7" fill="#089981"/>
<rect x="775.9" y="286.8" width="1" height="64.2" fill="#f23645"/>
<rect x="774.9" y="306.5" width="3" height="15.1" fill="#f23645"/>
<rect x="778.9" y="308.0" width="1" height="47.9" fill="#f23645"/>
<rect x="777.9" y="320.9" width="3" height="28.1" fill="#f23645"/>
<rect x="781.4" y="329.9" width="1" height="42.9" fill="#089981"/>
<rect x="780.4" y="345.7" width="3" height="3.3" fill="#089981"/>
<rect x="784.1" y="308.0" width="1" height="44.0" fill="#089981"/>
<rect x="783.1" y="318.9" width="3" height="26.8" fill="#089981"/>
<rect x="786.9" y="312.9" width="1" height="27.1" fill="#f23645"/>
<rect x="785.9" y="318.9" width="3" height="11.0" fill="#f23645"/>
<rect x="789.8" y="277.5" width="1" height="55.4" fill="#089981"/>
<rect x="788.8" y="278.8" width="3" height="51.4" fill="#089981"/>
<rect x="792.8" y="276.8" width="1" height="26.1" fill="#f23645"/>
<rect x="791.8" y="278.8" width="3" height="12.1" fill="#f23645"/>
<rect x="795.8" y="197.9" width="1" height="109.8" fill="#089981"/>
<rect x="794.8" y="209.2" width="3" height="81.7" fill="#089981"/>
<rect x="798.3" y="124.8" width="1" height="84.8" fill="#089981"/>
<rect x="797.3" y="152.3" width="3" height="56.9" fill="#089981"/>
<rect x="801.0" y="142.9" width="1" height="57.0" fill="#f23645"/>
<rect x="800.0" y="152.9" width="3" height="8.1" fill="#f23645"/>
<rect x="803.8" y="141.3" width="1" height="57.8" fill="#089981"/>
<rect x="802.8" y="149.3" width="3" height="11.7" fill="#089981"/>
<rect x="806.8" y="98.1" width="1" height="86.9" fill="#089981"/>
<rect x="805.8" y="140.3" width="3" height="9.4" fill="#089981"/>
<rect x="809.8" y="126.8" width="1" height="37.0" fill="#089981"/>
<rect x="808.8" y="139.7" width="3" height="1.2" fill="#089981"/>
<rect x="812.2" y="128.2" width="1" height="28.1" fill="#f23645"/>
<rect x="811.2" y="139.3" width="3" height="5.0" fill="#f23645"/>
<rect x="815.0" y="140.3" width="1" height="23.5" fill="#089981"/>
<rect x="814.0" y="144.3" width="3" height="4.6" fill="#089981"/>
<rect x="817.9" y="143.7" width="1" height="134.5" fill="#f23645"/>
<rect x="816.9" y="144.3" width="3" height="107.0" fill="#f23645"/>
<rect x="820.8" y="229.8" width="1" height="67.9" fill="#f23645"/>
<rect x="819.8" y="250.8" width="3" height="3.8" fill="#f23645"/>
<rect x="823.8" y="211.0" width="1" height="61.8" fill="#089981"/>
<rect x="822.8" y="219.4" width="3" height="35.2" fill="#089981"/>
<rect x="826.3" y="184.7" width="1" height="35.3" fill="#089981"/>
<rect x="825.3" y="210.4" width="3" height="9.4" fill="#089981"/>
<rect x="829.0" y="183.9" width="1" height="35.7" fill="#089981"/>
<rect x="828.0" y="187.0" width="3" height="23.6" fill="#089981"/>
<rect x="831.9" y="183.9" width="1" height="44.1" fill="#f23645"/>
<rect x="830.9" y="187.0" width="3" height="28.8" fill="#f23645"/>
<rect x="834.9" y="197.9" width="1" height="36.9" fill="#089981"/>
<rect x="833.9" y="201.9" width="3" height="13.9" fill="#089981"/>
<rect x="838.0" y="187.9" width="1" height="40.9" fill="#f23645"/>
<rect x="837.0" y="201.9" width="3" height="14.6" fill="#f23645"/>
<rect x="841.0" y="157.7" width="1" height="75.0" fill="#089981"/>
<rect x="840.0" y="183.1" width="3" height="33.4" fill="#089981"/>
<rect x="843.3" y="168.0" width="1" height="100.2" fill="#f23645"/>
<rect x="842.3" y="183.1" width="3" height="78.9" fill="#f23645"/>
<rect x="846.1" y="244.8" width="1" height="88.7" fill="#f23645"/>
<rect x="845.1" y="262.1" width="3" height="47.6" fill="#f23645"/>
<rect x="849.0" y="288.2" width="1" height="91.5" fill="#089981"/>
<rect x="848.0" y="297.7" width="3" height="11.2" fill="#089981"/>
<rect x="852.0" y="273.2" width="1" height="43.2" fill="#089981"/>
<rect x="851.0" y="296.5" width="3" height="1.5" fill="#089981"/>
<rect x="855.0" y="284.2" width="1" height="38.2" fill="#f23645"/>
<rect x="854.0" y="296.3" width="3" height="10.6" fill="#f23645"/>
<rect x="857.6" y="266.1" width="1" height="49.3" fill="#089981"/>
<rect x="856.6" y="270.2" width="3" height="36.7" fill="#089981"/>
<rect x="860.1" y="250.0" width="1" height="35.2" fill="#089981"/>
<rect x="859.1" y="262.1" width="3" height="8.7" fill="#089981"/>
<rect x="863.0" y="251.0" width="1" height="17.2" fill="#089981"/>
<rect x="862.0" y="255.1" width="3" height="7.4" fill="#089981"/>
<rect x="866.0" y="252.4" width="1" height="46.9" fill="#f23645"/>
<rect x="865.0" y="255.1" width="3" height="38.6" fill="#f23645"/>
<rect x="869.1" y="271.2" width="1" height="35.1" fill="#f23645"/>
<rect x="868.1" y="293.3" width="3" height="9.0" fill="#f23645"/>
<rect x="871.7" y="295.7" width="1" height="16.7" fill="#089981"/>
<rect x="870.7" y="301.7" width="3" height="1.2" fill="#089981"/>
<rect x="874.1" y="296.3" width="1" height="26.1" fill="#f23645"/>
<rect x="873.1" y="302.3" width="3" height="12.1" fill="#f23645"/>
<rect x="877.1" y="290.3" width="1" height="28.7" fill="#089981"/>
<rect x="876.1" y="309.3" width="3" height="5.1" fill="#089981"/>
<rect x="879.7" y="280.2" width="1" height="37.2" fill="#089981"/>
<rect x="878.7" y="288.2" width="3" height="21.5" fill="#089981"/>
<rect x="882.7" y="264.0" width="1" height="31.0" fill="#089981"/>
<rect x="881.7" y="278.2" width="3" height="10.6" fill="#089981"/>
<rect x="885.7" y="260.8" width="1" height="20.4" fill="#f23645"/>
<rect x="884.7" y="277.6" width="3" height="2.0" fill="#f23645"/>
<rect x="888.2" y="231.0" width="1" height="53.2" fill="#089981"/>
<rect x="887.2" y="240.2" width="3" height="38.6" fill="#089981"/>
<rect x="891.1" y="239.1" width="1" height="14.0" fill="#f23645"/>
<rect x="890.1" y="240.4" width="3" height="8.6" fill="#f23645"/>
<rect x="894.0" y="225.0" width="1" height="25.5" fill="#089981"/>
<rect x="893.0" y="227.0" width="3" height="22.0" fill="#089981"/>
<rect x="897.0" y="218.9" width="1" height="26.9" fill="#f23645"/>
<rect x="896.0" y="227.0" width="3" height="7.5" fill="#f23645"/>
<rect x="899.8" y="230.0" width="1" height="65.0" fill="#f23645"/>
<rect x="898.8" y="234.3" width="3" height="56.0" fill="#f23645"/>
<rect x="902.3" y="273.2" width="1" height="46.6" fill="#f23645"/>
<rect x="901.3" y="290.3" width="3" height="4.0" fill="#f23645"/>
<rect x="905.1" y="274.2" width="1" height="30.7" fill="#089981"/>
<rect x="904.1" y="293.3" width="3" height="4.0" fill="#089981"/>
<rect x="907.9" y="272.2" width="1" height="22.8" fill="#089981"/>
<rect x="906.9" y="284.2" width="3" height="9.5" fill="#089981"/>
<rect x="910.7" y="278.8" width="1" height="14.2" fill="#089981"/>
<rect x="909.7" y="282.2" width="3" height="2.6" fill="#089981"/>
<rect x="913.9" y="277.2" width="1" height="21.1" fill="#f23645"/>
<rect x="912.9" y="282.2" width="3" height="11.1" fill="#f23645"/>
<rect x="916.7" y="282.2" width="1" height="62.9" fill="#f23645"/>
<rect x="915.7" y="292.3" width="3" height="22.7" fill="#f23645"/>
<rect x="919.3" y="291.3" width="1" height="26.5" fill="#089981"/>
<rect x="918.3" y="293.3" width="3" height="21.7" fill="#089981"/>
<rect x="921.9" y="286.8" width="1" height="11.5" fill="#f23645"/>
<rect x="920.9" y="292.3" width="3" height="4.6" fill="#f23645"/>
</g>
<!-- price line -->
<line x1="11" y1="296.5" x2="1190" y2="296.5" stroke="#f23645" stroke-width="1" stroke-dasharray="1 2"/>
<!-- horizontal white lines -->
<rect x="685" y="266" width="553" height="2" fill="#fff"/>
<rect x="11" y="422" width="1227" height="2" fill="#fff"/>
<rect x="397" y="506" width="841" height="2" fill="#fff"/>
<rect x="353" y="581" width="885" height="2" fill="#fff"/>
<!-- trend lines -->
<line x1="109" y1="240" x2="563" y2="611" stroke="#fff" stroke-width="2.1"/>
<line x1="806.4" y1="90" x2="959.4" y2="302" stroke="#2962ff" stroke-width="2"/>
<line x1="761.3" y1="426" x2="962" y2="321.8" stroke="#2962ff" stroke-width="2"/>
<!-- axis ticks -->
<text x="1247.5" y="129.1" class="tk">140.00</text>
<text x="1247.5" y="169.1" class="tk">130.00</text>
<text x="1247.5" y="203.1" class="tk">122.00</text>
<text x="1247.5" y="240.1" class="tk">114.00</text>
<text x="1247.5" y="278.8" class="tk">106.00</text>
<text x="1247.5" y="362.1" class="tk">90.50</text>
<text x="1247.5" y="399.1" class="tk">84.50</text>
<text x="1247.5" y="481.1" class="tk">72.50</text>
<text x="1247.5" y="544.1" class="tk">64.50</text>
<text x="1247.5" y="578.1" class="tk">60.50</text>
<text x="1247.5" y="614.1" class="tk">56.50</text>
<text x="1247.5" y="649.1" class="tk">53.00</text>
<text x="1247.5" y="713.1" class="tk">47.00</text>
<text x="21.2" y="752.3" class="tk" text-anchor="middle">Mar</text>
<text x="108.5" y="752.3" class="tk" text-anchor="middle">Apr</text>
<text x="193" y="752.3" class="tk" text-anchor="middle">May</text>
<text x="280.5" y="752.3" class="tk" text-anchor="middle">Jun</text>
<text x="365" y="752.3" class="tk" text-anchor="middle">Jul</text>
<text x="452.2" y="752.3" class="tk" text-anchor="middle">Aug</text>
<text x="539.3" y="752.3" class="tk" text-anchor="middle">Sep</text>
<text x="623.7" y="752.3" class="tk" text-anchor="middle">Oct</text>
<text x="711" y="752.3" class="tk" text-anchor="middle">Nov</text>
<text x="795" y="752.3" class="tk" text-anchor="middle">Dec</text>
<text x="883" y="752.3" class="tk" text-anchor="middle">2025</text>
<text x="970" y="752.3" class="tk" text-anchor="middle">Feb</text>
<text x="1054.2" y="752.3" class="tk" text-anchor="middle">3</text>
<text x="1135.8" y="752.3" class="tk" text-anchor="middle">Apr</text>
<text x="1220.6" y="752.3" class="tk" text-anchor="middle">May</text>
<!-- legend -->
<g font-size="12" fill="#1c202b">
<text x="18.3" y="46" textLength="193.7" lengthAdjust="spacingAndGlyphs">Litecoin / U.S. Dollar, 1D, COINBASE</text>
<text x="220.2" y="46" textLength="6.8" lengthAdjust="spacingAndGlyphs">O</text>
<text x="271.8" y="46" textLength="6.8" lengthAdjust="spacingAndGlyphs">H</text>
<text x="322.8" y="46" textLength="5.2" lengthAdjust="spacingAndGlyphs">L</text>
<text x="371.6" y="46" textLength="6.6" lengthAdjust="spacingAndGlyphs">C</text>
</g>
<g font-size="12" fill="#f23645" stroke="#f23645" stroke-width="0.3">
<text x="229" y="46" textLength="35.4" lengthAdjust="spacingAndGlyphs">102.43</text>
<text x="279.6" y="46" textLength="35.4" lengthAdjust="spacingAndGlyphs">103.33</text>
<text x="329.3" y="46" textLength="34.4" lengthAdjust="spacingAndGlyphs">101.22</text>
</g>
<!-- tooltip -->
<rect x="395" y="27" width="148" height="25" rx="4" fill="#fff"/>
<text x="403" y="42.5" font-size="12" fill="#131722" textLength="131" lengthAdjust="spacingAndGlyphs">253.13 (223.82%) 25,313</text>
<g font-size="12" fill="#f23645" stroke="#f23645" stroke-width="0.3">
<text x="379.6" y="46" textLength="35" lengthAdjust="spacingAndGlyphs">101.66</text>
<text x="422.3" y="46" textLength="78" lengthAdjust="spacingAndGlyphs">−0.77 (−0.75%)</text>
</g>
<!-- USD box -->
<rect x="1243" y="32" width="56.5" height="25" rx="4" fill="#131722" stroke="#343844" stroke-width="1" stroke-dasharray="1 2"/>
<text x="1251" y="48.7" font-size="12" fill="#d1d4dc" textLength="21" lengthAdjust="spacingAndGlyphs">USD</text>
<!-- labels -->
<rect x="1239" y="73" width="49" height="17" rx="1" fill="#2962ff"/><text x="1247.5" y="85.8" class="lb">149.09</text>
<rect x="1206" y="90" width="32" height="17" rx="1.5" fill="#16305f"/><text x="1210.3" y="102.8" class="lb" textLength="23.6" lengthAdjust="spacingAndGlyphs">High</text>
<rect x="1239" y="90" width="49" height="17" fill="#16305f"/><text x="1247.5" y="102.8" class="lb">147.22</text>
<rect x="1239" y="259" width="49" height="17" rx="1" fill="#fff"/><text x="1247.5" y="271.8" class="lw">107.25</text>
<rect x="1190" y="288" width="48" height="17" rx="1" fill="#f23645"/><text x="1193.8" y="300.8" class="lb" textLength="40" lengthAdjust="spacingAndGlyphs">LTCUSD</text>
<rect x="1239" y="288" width="60" height="31" rx="1" fill="#f23645"/><text x="1247.5" y="300.8" class="lb">101.66</text><text x="1247.5" y="314.8" class="lb" fill-opacity="0.85">13:55:58</text>
<rect x="1239" y="319" width="49" height="17" rx="1" fill="#2962ff"/><text x="1247.5" y="331.8" class="lb">100.56</text>
<rect x="1239" y="336" width="43" height="17" rx="1" fill="#2962ff"/><text x="1247.5" y="348.8" class="lb">96.75</text>
<rect x="1239" y="415" width="43" height="17" rx="1" fill="#fff"/><text x="1247.5" y="427.8" class="lw">80.11</text>
<rect x="1239" y="432" width="43" height="17" rx="1" fill="#2962ff"/><text x="1247.5" y="444.8" class="lb">79.68</text>
<rect x="1239" y="499" width="43" height="17" rx="1" fill="#fff"/><text x="1247.5" y="511.8" class="lw">68.53</text>
<rect x="1239" y="574" width="43" height="17" rx="1" fill="#fff"/><text x="1247.5" y="586.8" class="lw">59.53</text>
<rect x="1208" y="668" width="30" height="17" rx="1.5" fill="#16305f"/><text x="1213" y="680.8" class="lb" textLength="21" lengthAdjust="spacingAndGlyphs">Low</text>
<rect x="1239" y="668" width="43" height="17" rx="1.5" fill="#16305f"/><text x="1247.5" y="680.8" class="lb">49.90</text>
<!-- icons -->
<g>
<circle cx="922.4" cy="696.4" r="10.8" fill="#1e222d"/>
<circle cx="922.4" cy="696.4" r="9.5" fill="#131722" stroke="#ab47bc" stroke-width="1.4"/>
<path d="M925.6 691.2 L918.4 697.3 L922 697.3 L919.4 701.8 L926.7 695.6 L923 695.6 Z" fill="#ab47bc" stroke="#ab47bc" stroke-width="0.9" stroke-linejoin="round"/>
</g>
<g>
<circle cx="928.5" cy="720.7" r="9.6" fill="#1e222d" stroke="#f23645" stroke-width="1.5"/>
<circle cx="926.4" cy="720.7" r="9.6" fill="#1e222d" stroke="#f23645" stroke-width="1.5"/>
<circle cx="924.3" cy="720.7" r="9.6" fill="#1e222d" stroke="#f23645" stroke-width="1.5"/>
<circle cx="922.2" cy="720.7" r="9.6" fill="#1e222d" stroke="#f23645" stroke-width="1.5"/>
<clipPath id="fc"><circle cx="922.2" cy="720.7" r="7.8"/></clipPath>
<g clip-path="url(#fc)">
<rect x="914" y="712" width="17" height="17" fill="#fff"/>
<rect x="914" y="712.9" width="17" height="2.3" fill="#f23645"/>
<rect x="914" y="717.4" width="17" height="2.3" fill="#f23645"/>
<rect x="914" y="721.9" width="17" height="2.3" fill="#f23645"/>
<rect x="914" y="726.4" width="17" height="2.3" fill="#f23645"/>
<rect x="914" y="712" width="10" height="9.9" fill="#2962ff"/>
<g fill="#dfe6ff"><circle cx="916.5" cy="714.6" r="0.45"/><circle cx="918.7" cy="714.6" r="0.45"/><circle cx="920.9" cy="714.6" r="0.45"/><circle cx="923" cy="714.6" r="0.45"/><circle cx="915.6" cy="716.8" r="0.45"/><circle cx="917.8" cy="716.8" r="0.45"/><circle cx="920" cy="716.8" r="0.45"/><circle cx="922.2" cy="716.8" r="0.45"/><circle cx="916.5" cy="719" r="0.45"/><circle cx="918.7" cy="719" r="0.45"/><circle cx="920.9" cy="719" r="0.45"/><circle cx="923" cy="719" r="0.45"/><circle cx="917.8" cy="721" r="0.45"/><circle cx="920" cy="721" r="0.45"/></g>
</g>
</g>
<!-- TV logo -->
<g fill="#131722">
<path d="M10 774 H18.6 V784 H13.6 V778.6 H10 Z"/>
<circle cx="21.6" cy="776.2" r="2.2"/>
<path d="M25 774 H29.8 L25.4 784 H20.6 Z"/>
</g>
</svg>
<div id="foot">TradingView</div>
</body></html>
